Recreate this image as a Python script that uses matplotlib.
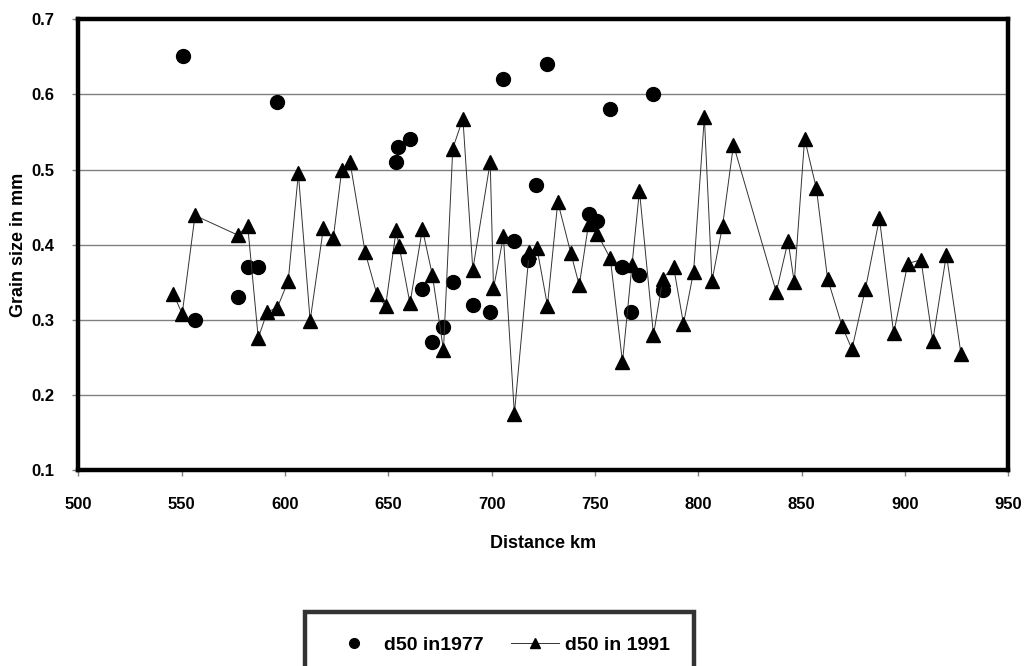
import matplotlib
matplotlib.use('Agg')
import matplotlib.pyplot as plt

plt.rcParams['font.family'] = ['Liberation Sans', 'DejaVu Sans']
plt.rcParams['font.weight'] = 'bold'

# d50 in 1977 (circles, no line)
km_1977 = [550.5, 556.5, 577.5, 582.0, 587.1, 596.3, 653.8, 654.9, 660.5, 666.5,
           671.3, 676.7, 681.2, 690.9, 699.0, 705.7, 711.0, 717.8, 721.4, 727.0,
           747.3, 751.2, 757.4, 763.3, 767.4, 771.5, 778.3, 782.8]
d50_1977 = [0.651, 0.300, 0.330, 0.370, 0.370, 0.590, 0.510, 0.530, 0.541, 0.341,
            0.270, 0.290, 0.350, 0.320, 0.310, 0.620, 0.405, 0.380, 0.480, 0.640,
            0.441, 0.431, 0.580, 0.371, 0.310, 0.360, 0.600, 0.340]

# d50 in 1991 (triangles joined by a line)
km_1991 = [546.0, 550.3, 556.5, 577.1, 582.0, 587.1, 591.5, 596.3, 601.6, 606.5,
           612.2, 618.6, 623.4, 627.5, 631.5, 638.8, 644.4, 648.7, 653.8, 655.2,
           660.5, 666.5, 671.3, 676.7, 681.2, 686.1, 690.9, 699.3, 700.9, 705.7,
           711.0, 718.2, 721.9, 727.0, 732.0, 738.3, 742.4, 746.9, 751.2, 757.4,
           763.3, 767.9, 771.5, 778.3, 782.8, 788.0, 792.8, 797.7, 802.9, 806.6,
           811.7, 817.0, 837.7, 843.4, 846.4, 851.4, 857.1, 862.5, 869.5, 874.3,
           880.8, 887.6, 894.5, 901.3, 907.7, 913.4, 920.0, 927.1]
d50_1991 = [0.335, 0.308, 0.439, 0.413, 0.425, 0.276, 0.311, 0.316, 0.352, 0.495,
            0.299, 0.422, 0.409, 0.500, 0.510, 0.390, 0.335, 0.318, 0.419, 0.399,
            0.322, 0.421, 0.360, 0.260, 0.528, 0.568, 0.367, 0.510, 0.342, 0.411,
            0.175, 0.391, 0.396, 0.319, 0.457, 0.389, 0.346, 0.428, 0.414, 0.382,
            0.244, 0.373, 0.472, 0.280, 0.355, 0.371, 0.295, 0.364, 0.570, 0.352,
            0.425, 0.533, 0.337, 0.405, 0.350, 0.541, 0.475, 0.355, 0.292, 0.261,
            0.341, 0.435, 0.282, 0.375, 0.380, 0.272, 0.387, 0.254]

x_ticks = [500, 550, 600, 650, 700, 750, 800, 850, 900, 950]
y_ticks = [0.1, 0.2, 0.3, 0.4, 0.5, 0.6, 0.7]

fig = plt.figure(figsize=(10.29, 6.66), dpi=100)
ax = fig.add_axes([0.076, 0.294, 0.904, 0.677])

ax.plot(km_1977, d50_1977, linestyle='none', marker='o', markersize=10,
        color='black', label='d50 in1977', zorder=3)
ax.plot(km_1991, d50_1991, linestyle='-', linewidth=0.7, color='#333333',
        marker='^', markersize=10.5, markerfacecolor='black',
        markeredgecolor='black', label='d50 in 1991', zorder=4)

ax.set_xlim(500, 950)
ax.set_ylim(0.1, 0.7)
ax.set_xticks(x_ticks)
ax.set_yticks(y_ticks)
ax.set_xticklabels([str(v) for v in x_ticks])
ax.set_yticklabels([f'{v:.1f}' for v in y_ticks])
ax.yaxis.grid(True, color='#808080', linewidth=1.0)
ax.set_axisbelow(True)
ax.tick_params(axis='both', direction='out', length=4, width=1,
               color='#808080', labelsize=12)
ax.tick_params(axis='x', pad=15)
ax.tick_params(axis='y', pad=13)
for s in ax.spines.values():
    s.set_linewidth(3.2)
    s.set_color('black')

ax.set_xlabel('Distance km', fontsize=13, fontweight='bold', labelpad=17)
ax.set_ylabel('Grain size in mm', fontsize=13, fontweight='bold', labelpad=3)

leg = fig.legend(loc='upper center', bbox_to_anchor=(0.4855, 0.0955), ncol=2,
                 frameon=True, fancybox=False, borderpad=1.25,
                 columnspacing=1.4, handlelength=2.5, handletextpad=0.3,
                 markerscale=0.7, prop={'weight': 'bold', 'size': 14})
leg.get_frame().set_edgecolor('black')
leg.get_frame().set_linewidth(3.2)

fig.savefig('out.png', dpi=100)
